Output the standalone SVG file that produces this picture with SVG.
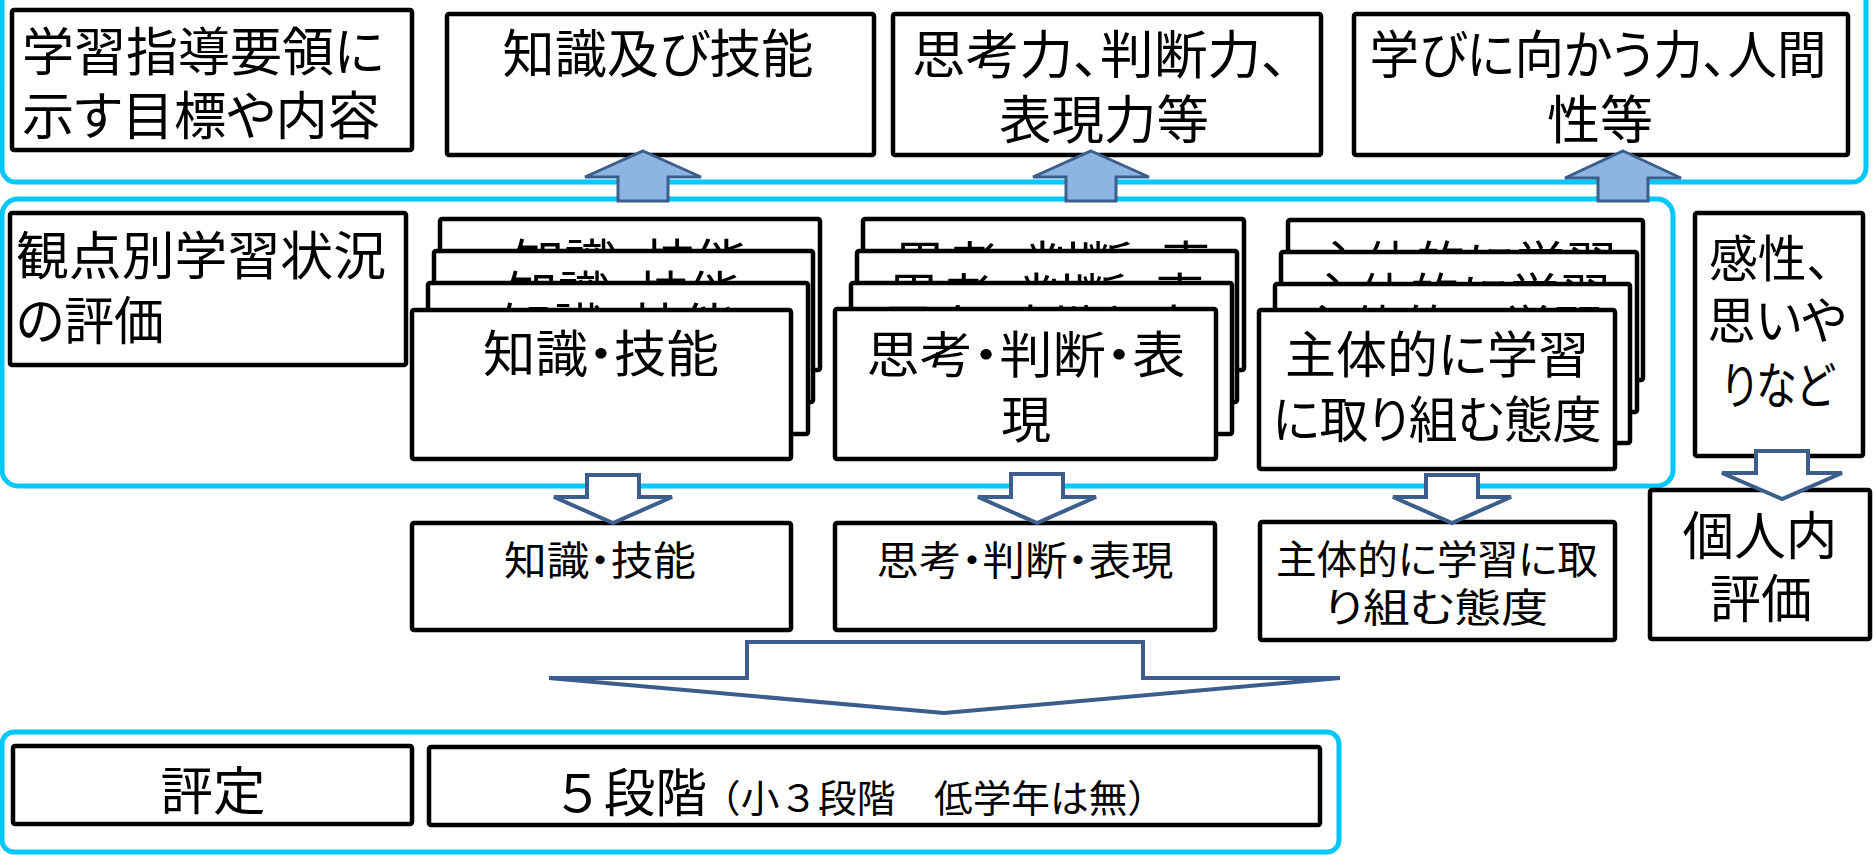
<svg xmlns="http://www.w3.org/2000/svg" width="1874" height="855" viewBox="0 0 1874 855">
<defs>
<style>
.box{fill:#fff;stroke:#000;stroke-width:4.5}
.cont{fill:none;stroke:#00C8FA;stroke-width:5}
.up{fill:#8DB4E2;stroke:#3B5E8C;stroke-width:3;stroke-linejoin:miter}
.down{fill:#fff;stroke:#3B5E8C;stroke-width:4;stroke-linejoin:miter}
text{font-family:"Noto Sans CJK JP","Noto Sans CJK SC",sans-serif;fill:#000;font-feature-settings:"palt"}
.np{font-feature-settings:normal}
.f52{font-size:52px}
.f50{font-size:50px}
.f40{font-size:40px}
.f38{font-size:38px}
.m{text-anchor:middle}
</style>
</defs>
<rect x="0" y="0" width="1874" height="855" fill="#fff"/>

<g id="containers">
<rect class="cont" x="2" y="-30" width="1864" height="212" rx="14"/>
<rect class="cont" x="2" y="199" width="1671" height="287" rx="16"/>
<rect class="cont" x="2" y="732" width="1337" height="120" rx="12"/>
</g>

<g id="goals">
<rect class="box" x="12" y="10" width="400" height="140" rx="2"/>
<text class="f52" x="22" y="71" textLength="362" lengthAdjust="spacingAndGlyphs">学習指導要領に</text>
<text class="f52" x="22" y="135" textLength="358" lengthAdjust="spacingAndGlyphs">示す目標や内容</text>
</g>
<g id="knowledge-top">
<rect class="box" x="447" y="14" width="427" height="141" rx="2"/>
<text class="f52 m" x="658" y="73" textLength="311" lengthAdjust="spacingAndGlyphs">知識及び技能</text>
</g>
<g id="thinking-top">
<rect class="box" x="893" y="14" width="428" height="141" rx="2"/>
<text class="f52 m" x="1100" y="74" textLength="376" lengthAdjust="spacingAndGlyphs">思考力、判断力、</text>
<text class="f52 m" x="1104" y="139" textLength="210" lengthAdjust="spacingAndGlyphs">表現力等</text>
</g>
<g id="humanity-top">
<rect class="box" x="1354" y="14" width="494" height="141" rx="2"/>
<text class="f52 m" x="1598" y="74" textLength="457" lengthAdjust="spacingAndGlyphs">学びに向かう力、人間</text>
<text class="f52 m" x="1600" y="139" textLength="106" lengthAdjust="spacingAndGlyphs">性等</text>
</g>

<g id="kanten">
<rect class="box" x="10" y="213" width="396" height="152" rx="2"/>
<text class="f52" x="16" y="275" textLength="370" lengthAdjust="spacingAndGlyphs">観点別学習状況</text>
<text class="f52" x="16" y="340" textLength="148" lengthAdjust="spacingAndGlyphs">の評価</text>
</g>

<g id="stack-knowledge">
<g><rect class="box" x="440" y="219" width="380" height="151" rx="2"/><text class="f50 m" x="630" y="281" textLength="236" lengthAdjust="spacingAndGlyphs">知識・技能</text></g>
<g><rect class="box" x="434" y="251" width="379" height="151" rx="2"/><text class="f50 m" x="623.5" y="313" textLength="236" lengthAdjust="spacingAndGlyphs">知識・技能</text></g>
<g><rect class="box" x="428" y="283" width="380" height="151" rx="2"/><text class="f50 m" x="618" y="345" textLength="236" lengthAdjust="spacingAndGlyphs">知識・技能</text></g>
<g><rect class="box" x="412" y="310" width="379" height="149" rx="2"/><text class="f50 m" x="601" y="372" textLength="236" lengthAdjust="spacingAndGlyphs">知識・技能</text></g>
</g>

<g id="stack-thinking">
<g><rect class="box" x="863" y="219" width="381" height="151" rx="2"/><text class="f50 m" x="1053" y="283" textLength="319" lengthAdjust="spacingAndGlyphs">思考・判断・表</text><text class="f50 m" x="1053" y="348">現</text></g>
<g><rect class="box" x="857" y="251" width="380" height="151" rx="2"/><text class="f50 m" x="1047" y="315" textLength="319" lengthAdjust="spacingAndGlyphs">思考・判断・表</text><text class="f50 m" x="1047" y="380">現</text></g>
<g><rect class="box" x="851" y="283" width="381" height="151" rx="2"/><text class="f50 m" x="1041" y="347" textLength="319" lengthAdjust="spacingAndGlyphs">思考・判断・表</text><text class="f50 m" x="1041" y="412">現</text></g>
<g><rect class="box" x="835" y="309" width="381" height="150" rx="2"/><text class="f50 m" x="1026" y="373" textLength="319" lengthAdjust="spacingAndGlyphs">思考・判断・表</text><text class="f50 m" x="1026" y="438">現</text></g>
</g>

<g id="stack-attitude">
<g><rect class="box" x="1288" y="220" width="355" height="160" rx="2"/><text class="f50 m" x="1465" y="283" textLength="304" lengthAdjust="spacingAndGlyphs">主体的に学習</text><text class="f50 m" x="1465" y="348" textLength="329" lengthAdjust="spacingAndGlyphs">に取り組む態度</text></g>
<g><rect class="box" x="1281" y="252" width="356" height="160" rx="2"/><text class="f50 m" x="1459" y="315" textLength="304" lengthAdjust="spacingAndGlyphs">主体的に学習</text><text class="f50 m" x="1459" y="380" textLength="329" lengthAdjust="spacingAndGlyphs">に取り組む態度</text></g>
<g><rect class="box" x="1275" y="284" width="355" height="159" rx="2"/><text class="f50 m" x="1452" y="347" textLength="304" lengthAdjust="spacingAndGlyphs">主体的に学習</text><text class="f50 m" x="1452" y="412" textLength="329" lengthAdjust="spacingAndGlyphs">に取り組む態度</text></g>
<g><rect class="box" x="1259" y="310" width="356" height="159" rx="2"/><text class="f50 m" x="1437" y="373" textLength="304" lengthAdjust="spacingAndGlyphs">主体的に学習</text><text class="f50 m" x="1437" y="438" textLength="329" lengthAdjust="spacingAndGlyphs">に取り組む態度</text></g>
</g>

<g id="kansei">
<rect class="box" x="1695" y="213" width="168" height="243" rx="2"/>
<text class="f50 m" x="1770" y="277" textLength="122" lengthAdjust="spacingAndGlyphs">感性、</text>
<text class="f50 m" x="1777" y="339" textLength="139" lengthAdjust="spacingAndGlyphs">思いや</text>
<text class="f50 m" x="1778" y="404" textLength="112" lengthAdjust="spacingAndGlyphs">りなど</text>
</g>

<g id="res-knowledge">
<rect class="box" x="412" y="523" width="379" height="107" rx="2"/>
<text class="f40 m" x="600" y="575" textLength="192" lengthAdjust="spacingAndGlyphs">知識・技能</text>
</g>
<g id="res-thinking">
<rect class="box" x="835" y="523" width="380" height="107" rx="2"/>
<text class="f40 m" x="1025" y="575" textLength="297" lengthAdjust="spacingAndGlyphs">思考・判断・表現</text>
</g>
<g id="res-attitude">
<rect class="box" x="1260" y="522" width="355" height="118" rx="2"/>
<text class="f40 m" x="1437" y="574" textLength="322" lengthAdjust="spacingAndGlyphs">主体的に学習に取</text>
<text class="f40 m" x="1436" y="622" textLength="224" lengthAdjust="spacingAndGlyphs">り組む態度</text>
</g>
<g id="kojinnai">
<rect class="box" x="1650" y="490" width="220" height="149" rx="2"/>
<text class="f52 m" x="1760" y="555" textLength="155" lengthAdjust="spacingAndGlyphs">個人内</text>
<text class="f52 m" x="1761" y="618" textLength="102" lengthAdjust="spacingAndGlyphs">評価</text>
</g>

<g id="hyotei">
<rect class="box" x="13" y="746" width="399" height="78" rx="2"/>
<text class="f52 m" x="213" y="810" textLength="105" lengthAdjust="spacingAndGlyphs">評定</text>
</g>
<g id="dankai">
<rect class="box" x="429" y="747" width="891" height="78" rx="2"/>
<text class="np f52" x="552" y="812" textLength="155" lengthAdjust="spacingAndGlyphs">５段階</text>
<text class="np f38" x="702" y="812" textLength="464" lengthAdjust="spacingAndGlyphs">（小３段階　低学年は無）</text>
</g>

<g id="connectors">
<polygon class="up" points="643,151 701,177 668,177 668,201 618,201 618,177 585,177"/>
<polygon class="up" points="1091,151 1149,177 1116,177 1116,201 1066,201 1066,177 1033,177"/>
<polygon class="up" points="1623,151 1681,178 1648,178 1648,201 1598,201 1598,178 1565,178"/>
<polygon class="down" points="587,475 639,475 639,497 672,497 613,523 554,497 587,497"/>
<polygon class="down" points="1011,474 1063,474 1063,497 1096,497 1037,523 978,497 1011,497"/>
<polygon class="down" points="1426,475 1478,475 1478,497 1511,497 1452,523 1393,497 1426,497"/>
<polygon class="down" points="1756,451 1808,451 1808,473 1842,473 1782,499 1722,473 1756,473"/>
<polygon class="down" points="747,642 1143,642 1143,678 1340,678 944,713 549,678 747,678"/>
</g>
</svg>
